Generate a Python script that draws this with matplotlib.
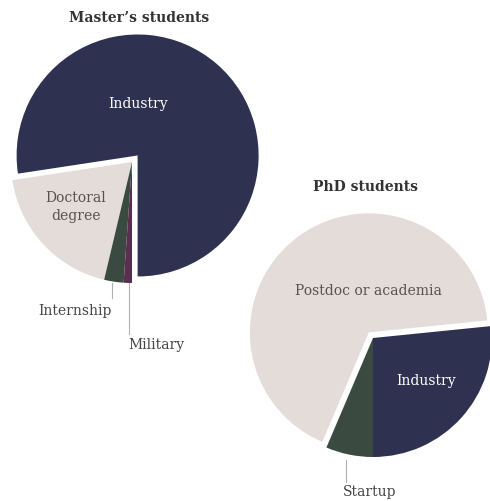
import matplotlib.pyplot as plt

# Dados (percentuais)
masters_labels = ["Industry", "Doctoral degree", "Internship", "Military"]
masters_values = [77.4, 18.9, 2.6, 1.1]

phd_labels = ["Industry", "Postdoc or academia", "Startup"]
phd_values = [26.6, 67.0, 6.4]

NAVY = "#2f3150"
LIGHT = "#e4dcd9"
GREEN = "#3b4a40"
PURPLE = "#5b2d50"
TEXT = "#454545"

H = 501  # altura em pixels, para converter coordenadas de cima para baixo


def py(y):
    return H - y


fig = plt.figure(figsize=(4.9, 5.01), dpi=100)
ax = fig.add_axes([0, 0, 1, 1])

# Pizza dos mestrandos (explode em unidades de dados = pixels)
ax.pie(masters_values, colors=[NAVY, LIGHT, GREEN, PURPLE],
       startangle=-90, counterclock=True, center=(132, py(162)), radius=121,
       explode=[8.6, 0, 0, 0], wedgeprops=dict(linewidth=0))

# Pizza dos doutorandos
ax.pie(phd_values, colors=[NAVY, LIGHT, GREEN],
       startangle=-90, counterclock=True, center=(373, py(338)), radius=119,
       explode=[0, 7.0, 0], wedgeprops=dict(linewidth=0))

ax.set_xlim(0, 490)
ax.set_ylim(0, H)
ax.set_aspect("equal")
ax.axis("off")

serif = "DejaVu Serif"

# Titulos
ax.text(139, py(18), "Master\u2019s students", ha="center", va="center",
        fontsize=10, fontweight="bold", family=serif, color="#333333")
ax.text(365, py(187), "PhD students", ha="center", va="center",
        fontsize=10, fontweight="bold", family=serif, color="#333333")

# Rotulos dentro das fatias
ax.text(138, py(104), masters_labels[0], ha="center", va="center",
        fontsize=10, family=serif, color="white")
ax.text(76, py(207), "Doctoral\ndegree", ha="center", va="center",
        fontsize=10, family=serif, color="#5a5050", linespacing=1.3)
ax.text(368, py(291), phd_labels[1], ha="center", va="center",
        fontsize=10, family=serif, color="#5a5050")
ax.text(426, py(381), phd_labels[0], ha="center", va="center",
        fontsize=10, family=serif, color="white")

# Rotulos externos com linhas de chamada
ax.plot([112, 112], [py(283), py(298)], color="#b0b0b0", lw=0.8)
ax.text(75, py(311), masters_labels[2], ha="center", va="center",
        fontsize=10, family=serif, color=TEXT)

ax.plot([129, 129], [py(283), py(334)], color="#b0b0b0", lw=0.8)
ax.text(156, py(345), masters_labels[3], ha="center", va="center",
        fontsize=10, family=serif, color=TEXT)

ax.plot([346, 346], [py(460), py(482)], color="#b0b0b0", lw=0.8)
ax.text(370, py(492), phd_labels[2], ha="center", va="center",
        fontsize=10, family=serif, color=TEXT)

fig.savefig("out.png", dpi=100, facecolor="white")
